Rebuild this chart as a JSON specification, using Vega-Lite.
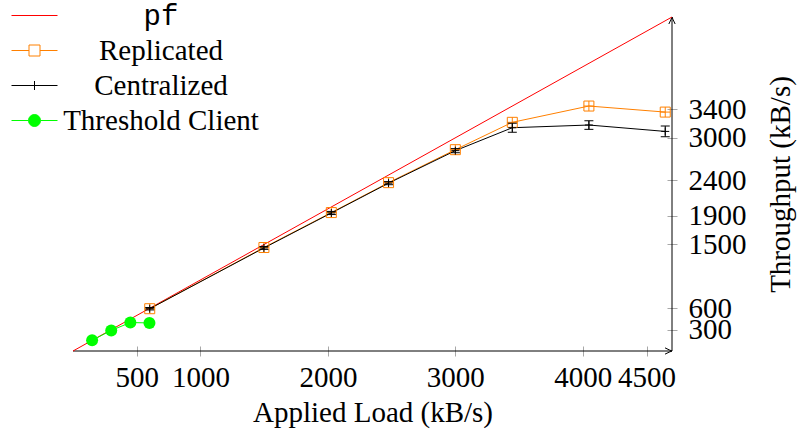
{
  "$schema": "https://vega.github.io/schema/vega-lite/v6.json",
  "width": 599,
  "height": 334,
  "autosize": {"type": "none"},
  "padding": {"left": 73, "top": 17, "right": 125, "bottom": 79},
  "background": "white",
  "config": {
    "view": {"stroke": null},
    "font": "Times New Roman"
  },
  "datasets": {
    "series": [
      {"series": "pf", "x": 0, "y": 0},
      {"series": "pf", "x": 4700, "y": 4700},
      {"series": "Replicated", "x": 602, "y": 595},
      {"series": "Replicated", "x": 1498, "y": 1456},
      {"series": "Replicated", "x": 2027, "y": 1948},
      {"series": "Replicated", "x": 2476, "y": 2369},
      {"series": "Replicated", "x": 3000, "y": 2833},
      {"series": "Replicated", "x": 3447, "y": 3218},
      {"series": "Replicated", "x": 4048, "y": 3447},
      {"series": "Replicated", "x": 4647, "y": 3362},
      {"series": "Centralized", "x": 602, "y": 595, "lo": 578, "hi": 612},
      {"series": "Centralized", "x": 1498, "y": 1450, "lo": 1430, "hi": 1470},
      {"series": "Centralized", "x": 2027, "y": 1942, "lo": 1920, "hi": 1964},
      {"series": "Centralized", "x": 2476, "y": 2362, "lo": 2340, "hi": 2384},
      {"series": "Centralized", "x": 3000, "y": 2819, "lo": 2790, "hi": 2848},
      {"series": "Centralized", "x": 3447, "y": 3142, "lo": 3078, "hi": 3205},
      {"series": "Centralized", "x": 4048, "y": 3180, "lo": 3119, "hi": 3240},
      {"series": "Centralized", "x": 4647, "y": 3090, "lo": 3015, "hi": 3166},
      {"series": "Threshold Client", "x": 150, "y": 150},
      {"series": "Threshold Client", "x": 300, "y": 290},
      {"series": "Threshold Client", "x": 450, "y": 400},
      {"series": "Threshold Client", "x": 600, "y": 395}
    ],
    "frame": [
      {"x": 0, "y": 0, "x2": 4700, "y2": 0},
      {"x": 4700, "y": 0, "x2": 4700, "y2": 4700}
    ],
    "arrowR": [{"x": 4700, "y": 0}],
    "arrowU": [{"x": 4700, "y": 4700}]
  },
  "encoding": {
    "x": {
      "field": "x", "type": "quantitative",
      "scale": {"domain": [0, 4700], "nice": false, "zero": false},
      "axis": {
        "title": "Applied Load (kB/s)",
        "values": [500, 1000, 2000, 3000, 4000, 4500], "format": "d",
        "domain": false, "grid": false, "offset": -5,
        "tickSize": 10, "tickColor": "#a8a8a8", "tickWidth": 1,
        "labelFont": "Times New Roman", "labelFontSize": 29, "labelColor": "black",
        "labelPadding": 7, "labelOverlap": false, "labelFlush": false, "labelBound": false,
        "titleFont": "Times New Roman", "titleFontSize": 29, "titleFontWeight": "normal",
        "titleColor": "black", "titlePadding": 6
      }
    },
    "y": {
      "field": "y", "type": "quantitative", "title": "Throughput (kB/s)",
      "scale": {"domain": [0, 4700], "nice": false, "zero": false},
      "axis": {
        "orient": "right",
        "title": "Throughput (kB/s)",
        "values": [300, 600, 1500, 1900, 2400, 3000, 3400], "format": "d",
        "domain": false, "grid": false, "offset": -5,
        "tickSize": 10, "tickColor": "#a8a8a8", "tickWidth": 1,
        "labelFont": "Times New Roman", "labelFontSize": 29, "labelColor": "black",
        "labelPadding": 11, "labelOverlap": false, "labelFlush": false, "labelBound": false,
        "titleFont": "Times New Roman", "titleFontSize": 29, "titleFontWeight": "normal",
        "titleColor": "black", "titleAngle": 270, "titleBaseline": "top", "titlePadding": 20
      }
    }
  },
  "layer": [
    {
      "data": {"name": "frame"},
      "mark": {"type": "rule", "color": "black", "strokeWidth": 1},
      "encoding": {"x2": {"field": "x2"}, "y2": {"field": "y2"}}
    },
    {
      "data": {"name": "arrowR"},
      "mark": {"type": "point", "shape": "M-1,-0.45Q-0.3,-0.1 0,0Q-0.3,0.1 -1,0.45", "size": 196, "filled": false, "color": "black", "strokeWidth": 1, "opacity": 1},
      "encoding": {}
    },
    {
      "data": {"name": "arrowU"},
      "mark": {"type": "point", "shape": "M-0.45,1Q-0.1,0.3 0,0Q0.1,0.3 0.45,1", "size": 196, "filled": false, "color": "black", "strokeWidth": 1, "opacity": 1},
      "encoding": {}
    },
    {
      "data": {"name": "series"},
      "mark": {"type": "line", "strokeWidth": 1},
      "encoding": {
        "color": {
          "field": "series", "type": "nominal",
          "scale": {"domain": ["pf", "Replicated", "Centralized", "Threshold Client"], "range": ["#ff0000", "#ff8000", "#000000", "#00ff00"]},
          "legend": {
            "orient": "none", "legendX": -53, "legendY": -16,
            "title": null, "padding": 0, "rowPadding": 5,
            "symbolSize": 400, "symbolStrokeWidth": 1,
            "labelFont": "Times New Roman", "labelFontSize": 29, "labelColor": "black",
            "labelAlign": "center", "labelOffset": 112, "labelLimit": 0,
            "encode": {
              "symbols": {"update": {
                "shape": {"signal": "datum.value === 'pf' ? 'M-2.3,0H2.3' : datum.value === 'Replicated' ? 'M-2.3,0H-0.55M0.55,0H2.3M-0.55,-0.55H0.55V0.55H-0.55Z' : datum.value === 'Centralized' ? 'M-2.3,0H2.3M0,-0.45V0.45' : 'M-2.3,0H-0.6M0.6,0H2.3M-0.6,0A0.6,0.6 0 1,0 0.6,0A0.6,0.6 0 1,0 -0.6,0Z'"},
                "fill": {"signal": "datum.value === 'Threshold Client' ? '#00ff00' : 'transparent'"},
                "stroke": {"signal": "scale('color', datum.value)"},
                "strokeWidth": {"value": 1},
                "opacity": {"value": 1}
              }},
              "labels": {"update": {"font": {"signal": "datum.value === 'pf' ? 'Liberation Mono' : 'Times New Roman'"}}}
            }
          }
        }
      }
    },
    {
      "data": {"name": "series"},
      "transform": [{"filter": "datum.series === 'Replicated'"}],
      "mark": {"type": "point", "shape": "M-1,-1H1V1H-1ZM-1,0H1M0,-1V1", "size": 100, "filled": false, "color": "#ff8000", "strokeWidth": 1, "opacity": 1}
    },
    {
      "data": {"name": "series"},
      "transform": [{"filter": "datum.series === 'Centralized'"}],
      "mark": {"type": "rule", "color": "black", "strokeWidth": 1},
      "encoding": {"y": {"field": "lo", "type": "quantitative", "title": "Throughput (kB/s)"}, "y2": {"field": "hi"}}
    },
    {
      "data": {"name": "series"},
      "transform": [{"filter": "datum.series === 'Centralized'"}],
      "mark": {"type": "point", "shape": "M-1,0H1", "size": 81, "filled": false, "color": "black", "strokeWidth": 1, "opacity": 1},
      "encoding": {"y": {"field": "lo", "type": "quantitative", "title": "Throughput (kB/s)"}}
    },
    {
      "data": {"name": "series"},
      "transform": [{"filter": "datum.series === 'Centralized'"}],
      "mark": {"type": "point", "shape": "M-1,0H1", "size": 81, "filled": false, "color": "black", "strokeWidth": 1, "opacity": 1},
      "encoding": {"y": {"field": "hi", "type": "quantitative", "title": "Throughput (kB/s)"}}
    },
    {
      "data": {"name": "series"},
      "transform": [{"filter": "datum.series === 'Centralized'"}],
      "mark": {"type": "point", "shape": "M-1,0H1M0,-1V1", "size": 64, "filled": false, "color": "black", "strokeWidth": 1, "opacity": 1}
    },
    {
      "data": {"name": "series"},
      "transform": [{"filter": "datum.series === 'Threshold Client'"}],
      "mark": {"type": "point", "shape": "circle", "size": 144, "filled": true, "color": "#00ff00", "opacity": 1}
    }
  ]
}
